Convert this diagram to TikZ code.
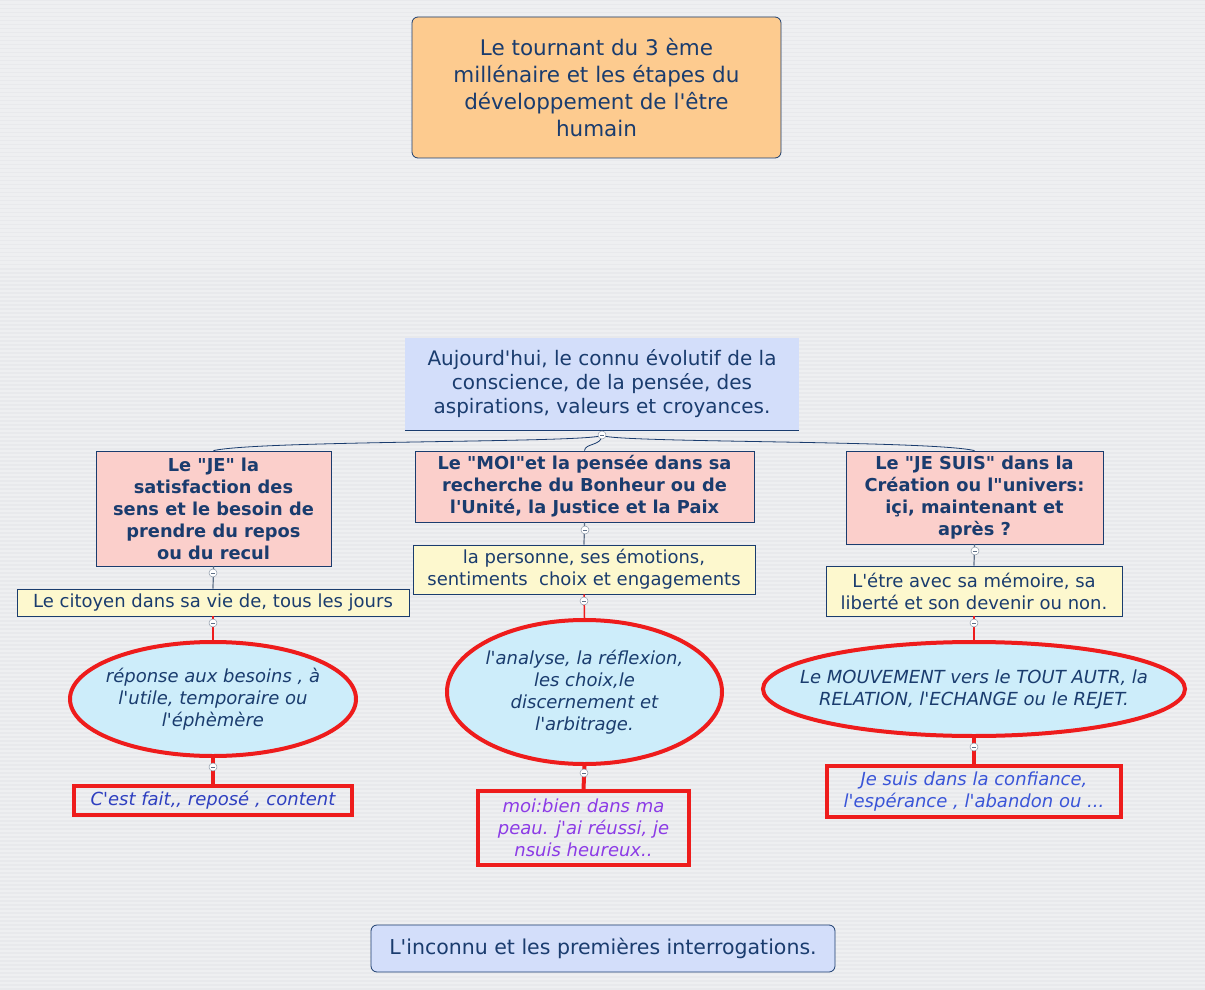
\documentclass[tikz,border=0pt]{standalone}
\usepackage{fontspec}
\setmainfont{DejaVu Sans}[Ligatures=TeXOff]
\usetikzlibrary{shapes.geometric}
\definecolor{bgA}{HTML}{EEEFF1}
\definecolor{bgB}{HTML}{E8E9EC}
\definecolor{navy}{HTML}{1A3C6E}
\definecolor{orangef}{HTML}{FDCB8F}
\definecolor{bluef}{HTML}{D3DEFA}
\definecolor{pinkf}{HTML}{FBCFCB}
\definecolor{yellowf}{HTML}{FDF8CE}
\definecolor{cyanf}{HTML}{CDEDFA}
\definecolor{redb}{HTML}{EE1C1C}
\definecolor{bluetA}{HTML}{2E3FC0}
\definecolor{purplet}{HTML}{8C3BE6}
\definecolor{bluetB}{HTML}{3A55D8}
\definecolor{greyl}{HTML}{5E6F86}
\tikzset{
  base/.style={inner sep=0pt, align=center, text=navy},
  titlebox/.style={base, rectangle, rounded corners=6pt, draw=navy, fill=orangef, line width=0.8pt, font=\fontsize{21.5}{27}\selectfont},
  rootbox/.style={base, rectangle, fill=bluef, font=\fontsize{20}{24}\selectfont},
  pinkbox/.style={base, rectangle, draw=navy, fill=pinkf, line width=0.8pt, font=\fontsize{17.8}{22}\selectfont\bfseries},
  yellowbox/.style={base, rectangle, draw=navy, fill=yellowf, line width=0.8pt, font=\fontsize{18}{22}\selectfont},
  ellbox/.style={base, ellipse, draw=redb, fill=cyanf, line width=4pt},
  elltext/.style={base, font=\fontsize{18}{22}\selectfont\itshape},
  redbox/.style={base, rectangle, draw=redb, line width=4pt, font=\fontsize{18}{22}\selectfont\itshape},
  bottombox/.style={base, rectangle, rounded corners=6pt, draw=navy, fill=bluef, line width=0.8pt, font=\fontsize{20.5}{24}\selectfont},
  tog/.style={circle, draw=greyl!70, fill=white, line width=0.5pt, minimum size=8pt, inner sep=0pt,
    path picture={\draw[greyl, line width=0.6pt] ([xshift=-2pt]path picture bounding box.center) -- ([xshift=2pt]path picture bounding box.center);}},
  conn/.style={navy, line width=0.8pt},
  gconn/.style={greyl, line width=1.2pt},
  rconn/.style={redb, line width=1.5pt},
  rthick/.style={redb, line width=4pt}
}
\begin{document}
\begin{tikzpicture}[x=1pt,y=-1pt]
\fill[bgA] (0,0) rectangle (1205,989);
\foreach \yy in {0,4,...,988} \fill[bgB] (0,\yy) rectangle (1205,\yy+1.5);
\useasboundingbox (0,0) rectangle (1205,989);

% title
\node[titlebox, minimum width=369pt, minimum height=141pt] (title) at (596.5,87.5)
  {Le tournant du 3 ème\\millénaire et les étapes du\\développement de l'être\\humain};

% root
\node[rootbox, minimum width=394pt, minimum height=92pt] (root) at (602,384)
  {Aujourd'hui, le connu évolutif de la\\conscience, de la pensée, des\\aspirations, valeurs et croyances.};
\draw[conn] (root.south west) -- (root.south east);

% level 1
\node[pinkbox, minimum width=235pt, minimum height=115pt] (p1) at (213.5,508.5)
  {Le "JE" la\\satisfaction des\\sens et le besoin de\\prendre du repos\\ou du recul};
\node[pinkbox, minimum width=339pt, minimum height=71pt] (p2) at (584.5,486.5)
  {Le "MOI"et la pensée dans sa\\recherche du Bonheur ou de\\l'Unité, la Justice et la Paix};
\node[pinkbox, minimum width=257pt, minimum height=93pt] (p3) at (974.5,497.5)
  {Le "JE SUIS" dans la\\Création ou l"univers:\\içi, maintenant et\\après ?};

% level 2
\node[yellowbox, minimum width=392pt, minimum height=27pt] (y1) at (213,602.5)
  {Le citoyen dans sa vie de, tous les jours};
\node[yellowbox, minimum width=342pt, minimum height=49pt] (y2) at (584,569.5)
  {la personne, ses émotions,\\sentiments\ \ choix et engagements};
\node[yellowbox, minimum width=296pt, minimum height=50pt] (y3) at (974,591)
  {L'étre avec sa mémoire, sa\\liberté et son devenir ou non.};

% level 3
\node[ellbox, minimum width=286pt, minimum height=114pt] (e1) at (213,699) {};
\node[elltext] (e1t) at (e1.center) {réponse aux besoins , à\\l'utile, temporaire ou\\l'éphèmère};
\node[ellbox, minimum width=275pt, minimum height=144pt] (e2) at (584.5,692) {};
\node[elltext] (e2t) at (e2.center) {l'analyse, la réflexion,\\les choix,le\\discernement et\\l'arbitrage.};
\node[ellbox, minimum width=422pt, minimum height=94pt] (e3) at (974,689) {};
\node[elltext] (e3t) at (e3.center) {Le MOUVEMENT vers le TOUT AUTR, la\\RELATION, l'ECHANGE ou le REJET.};

% level 4
\node[redbox, text=bluetA, minimum width=278pt, minimum height=29pt] (r1) at (213,800.5)
  {C'est fait,, reposé , content};
\node[redbox, text=purplet, minimum width=211pt, minimum height=74pt] (r2) at (583.5,828)
  {moi:bien dans ma\\peau. j'ai réussi, je\\nsuis heureux..};
\node[redbox, text=bluetB, minimum width=294pt, minimum height=51pt] (r3) at (974,791.5)
  {Je suis dans la confiance,\\l'espérance , l'abandon ou ...};

% bottom
\node[bottombox, minimum width=464pt, minimum height=47pt] (bot) at (603,948.5)
  {L'inconnu et les premières interrogations.};

\coordinate (c0) at (602,435);
% connectors root -> level1
\draw[conn] (c0) .. controls (602,443) and (260,440) .. (p1.north);
\draw[conn] (c0) .. controls (602,443) and (930,440) .. (p3.north);
\draw[conn] (c0) .. controls (602,446) and (585,443) .. (p2.north);
% level1 -> level2
\draw[gconn] (p1.south) -- (y1.north);
\draw[gconn] (p2.south) -- (y2.north);
\draw[gconn] (p3.south) -- (y3.north);
% level2 -> level3
\draw[rconn] (y1.south) -- (e1.north);
\draw[rconn] (y2.south) -- (e2.north);
\draw[rconn] (y3.south) -- (e3.north);
% level3 -> level4
\draw[rthick] (e1.south) -- (r1.north);
\draw[rthick] (e2.south) -- (r2.north);
\draw[rthick] (e3.south) -- (r3.north);

\node[tog] (t0) at (c0) {};
\node[tog] (t1) at (213,573) {};
\node[tog] (t2) at (585,530) {};
\node[tog] (t3) at (975,551) {};
\node[tog] (t4) at (213,623) {};
\node[tog] (t5) at (584,601) {};
\node[tog] (t6) at (974,623) {};
\node[tog] (t7) at (213,767) {};
\node[tog] (t8) at (584,773) {};
\node[tog] (t9) at (974,747) {};
\end{tikzpicture}
\end{document}
